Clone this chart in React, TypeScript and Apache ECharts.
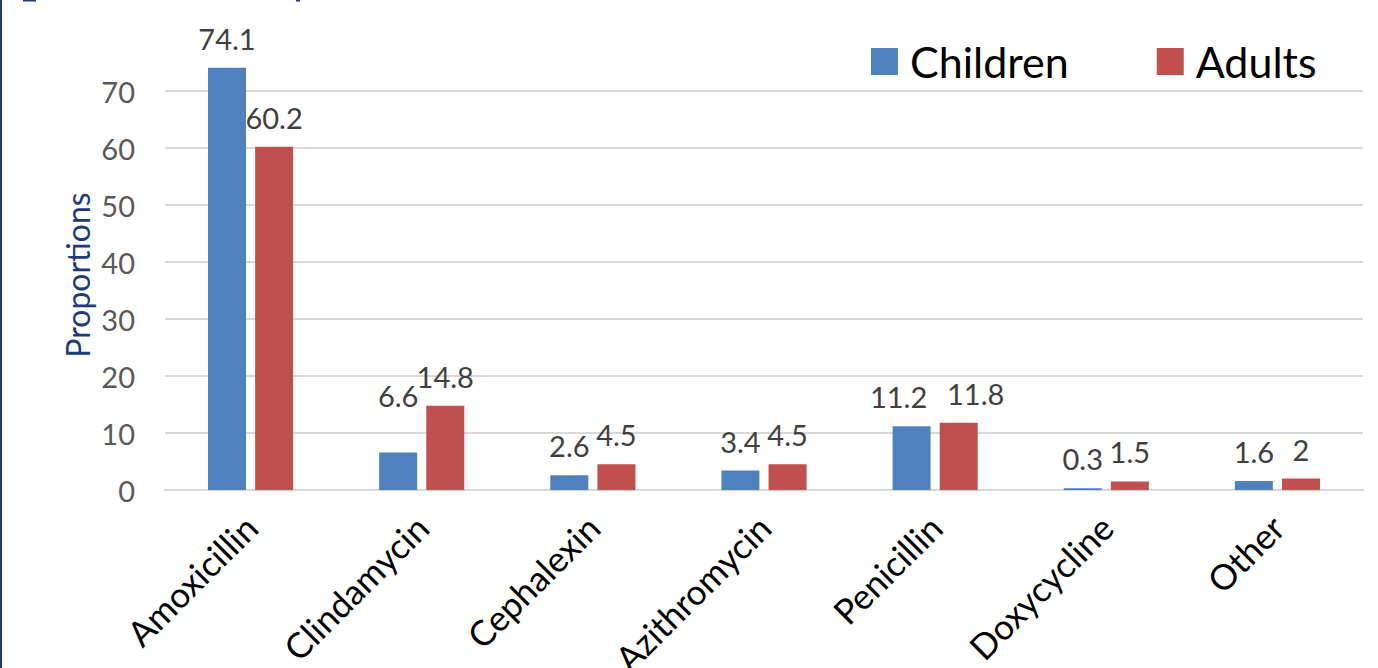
import React, { useEffect, useRef } from "react";
import * as echarts from "echarts";

const categories = ["Amoxicillin", "Clindamycin", "Cephalexin", "Azithromycin", "Penicillin", "Doxycycline", "Other"];
const children = [74.1, 6.6, 2.6, 3.4, 11.2, 0.3, 1.6];
const adults = [60.2, 14.8, 4.5, 4.5, 11.8, 1.5, 2];
const seriesNames = ["Children", "Adults"];
const yAxisTitle = "Proportions";

const FONT = "Lato, 'Open Sans', sans-serif";

// label nudges (style only), keyed by category index
const childLabelOffsets: Record<number, number[]> = { 1: [0, -27], 4: [-13, 0] };
const adultLabelOffsets: Record<number, number[]> = { 4: [17, 0] };

export default function App() {
  const ref = useRef<HTMLDivElement>(null);
  useEffect(() => {
    if (!ref.current) return;
    const chart = echarts.init(ref.current, null, { renderer: "svg" });
    const labelStyle = {
      show: true,
      position: "top",
      distance: 15,
      fontSize: 29,
      color: "#404040",
      fontFamily: FONT,
    };
    const withOffsets = (arr: number[], offs: Record<number, number[]>) =>
      arr.map((v, i) => (offs[i] ? { value: v, label: { offset: offs[i] } } : v));
    chart.setOption({
      animation: false,
      textStyle: { fontFamily: FONT },
      grid: { left: 165, right: 15, top: 91, bottom: 178, containLabel: false, outerBoundsMode: "none" },
      legend: {
        data: seriesNames,
        left: 866,
        top: 35,
        itemWidth: 27,
        itemHeight: 27,
        itemGap: 88,
        icon: "rect",
        textStyle: { fontSize: 43, color: "#000", fontFamily: FONT, padding: [0, 0, 0, 7] },
      },
      xAxis: {
        type: "category",
        data: categories,
        axisLine: { lineStyle: { color: "#D9D9D9", width: 2 } },
        axisTick: { show: false },
        axisLabel: {
          rotate: 45,
          interval: 0,
          margin: 31,
          fontSize: 35,
          color: "#000",
          fontFamily: FONT,
        },
      },
      yAxis: {
        type: "value",
        min: 0,
        max: 70,
        interval: 10,
        axisLine: { show: false },
        axisTick: { show: false },
        axisLabel: { fontSize: 29, color: "#595959", margin: 30, fontFamily: FONT },
        splitLine: { lineStyle: { color: "#D9D9D9", width: 2 } },
      },
      graphic: [
        {
          type: "text",
          x: 77,
          y: 275,
          rotation: Math.PI / 2,
          style: {
            text: yAxisTitle,
            fontSize: 32,
            fill: "#1F3A7A",
            fontFamily: FONT,
            align: "center",
            verticalAlign: "middle",
          },
        },
        { type: "rect", shape: { x: 0, y: 0, width: 2, height: 668 }, style: { fill: "#1F3A7A" } },
        { type: "rect", shape: { x: 23, y: 0, width: 13, height: 1.5 }, style: { fill: "#1F3A7A" } },
        { type: "rect", shape: { x: 296, y: 0, width: 4, height: 1.5 }, style: { fill: "#1F3A7A" } },
      ],
      series: [
        {
          name: seriesNames[0],
          type: "bar",
          data: withOffsets(children, childLabelOffsets),
          clip: false,
          barWidth: 38,
          barGap: "24%",
          itemStyle: { color: "#4F81BD" },
          label: labelStyle,
        },
        {
          name: seriesNames[1],
          type: "bar",
          data: withOffsets(adults, adultLabelOffsets),
          clip: false,
          barWidth: 38,
          barGap: "24%",
          itemStyle: { color: "#C0504D" },
          label: labelStyle,
        },
      ],
    });
    return () => chart.dispose();
  }, []);
  return (
    <div
      ref={ref}
      style={{ position: "fixed", left: 0, top: 0, width: 1378, height: 668, background: "#fff" }}
    />
  );
}
